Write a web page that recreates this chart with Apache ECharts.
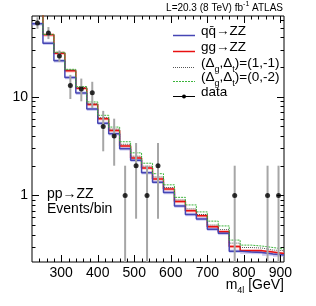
<!DOCTYPE html>
<html><head><meta charset="utf-8">
<script src="https://cdn.jsdelivr.net/npm/echarts@6/dist/echarts.min.js"></script>
<style>html,body{margin:0;padding:0;background:#fff}#c{width:316px;height:306px}</style>
</head><body><div id="c"></div>
<script>
// ---- data ----
const binEdges = [220,250,280,310,340,370,400,430,460,490,520,550,580,610,640,670,700,730,760,790,820,850,880];
const binHigh = 910;
const qqZZ    = [55,35,23.2,15.7,10.9,7.5,5.38,4.22,2.97,2.27,1.7,1.36,1.07,0.78,0.64,0.577,0.453,0.412,0.272,0.266,0.264,0.254,0.248];
const ggZZ    = [70,42.5,27.7,18.4,12.2,8.35,6.0,4.56,3.16,2.4,1.9,1.47,1.16,0.867,0.70,0.62,0.482,0.428,0.303,0.275,0.275,0.266,0.257];
const dg1dtm1 = [70,42.8,28,18.7,12.4,8.5,6.15,4.7,3.3,2.5,1.98,1.54,1.2,0.9,0.73,0.64,0.5,0.45,0.328,0.296,0.292,0.279,0.275];
const dg0dtm2 = [70,43,28.3,19,12.7,8.87,6.49,4.93,3.5,2.7,2.12,1.66,1.28,0.955,0.80,0.68,0.548,0.49,0.352,0.313,0.306,0.296,0.285];
const dataMass = [235,265,295,325,355,385,415,445,475,505,535,565,775,865,895];
const dataVal  = [56,44.5,26,13,12,11,5,4,1,2,1,2,1,1,1];
const dataLo   = [49,38.5,22.5,9.5,9.0,7.7,2.8,2.0,0.17,0.58,0.17,0.58,0.17,0.17,0.17];
const dataHi   = [64,51,29.5,16.7,15.3,14.2,7.2,6.0,2.0,3.4,2.0,3.4,2.0,2.0,2.0];
const xMajorTicks = [300,400,500,600,700,800,900];
const xMinorTicks = [240,260,280,320,340,360,380,420,440,460,480,520,540,560,580,620,640,660,680,720,740,760,780,820,840,860,880];
const yMajorTicks = [1,10];
const yMinorTicks = [0.3,0.4,0.5,0.6,0.7,0.8,0.9,2,3,4,5,6,7,8,9,20,30,40,50,60];
const xLabels = ['300','400','500','600','700','800','900'];
const bandRel = 0.04;

const X_MIN = 220, X_MAX = 910, Y_MIN = 0.211, Y_MAX = 66;
const FONT = 'Liberation Sans, Arial, Helvetica, sans-serif';

function stepData(vals){
  const d = binEdges.map((e,i)=>[e, vals[i]]);
  d.push([binHigh, vals[vals.length-1]]);
  return d;
}
function bandData(vals){
  return binEdges.map((e,i)=>[e, i < binEdges.length-1 ? binEdges[i+1] : binHigh, vals[i]*(1-bandRel), vals[i]*(1+bandRel)]);
}
function bandSeries(vals, color){
  return {
    type:'custom', data: bandData(vals), encode:{x:[0,1], y:[2,3]}, silent:true, z:1,
    renderItem(params, api){
      const p1 = api.coord([api.value(0), api.value(3)]);
      const p2 = api.coord([api.value(1), api.value(2)]);
      const cs = params.coordSys;
      const r = echarts.graphic.clipRectByRect(
        {x:p1[0], y:p1[1], width:p2[0]-p1[0], height:p2[1]-p1[1]},
        {x:cs.x, y:cs.y, width:cs.width, height:cs.height});
      if (!r) return;
      return {type:'rect', shape:r, style:{fill:color}};
    }
  };
}
function lineSeries(vals, color, width, dash, z){
  return {type:'line', step:'end', data: stepData(vals), symbol:'none', clip:true, z:z,
    lineStyle:{color:color, width:width, type: dash || 'solid'}, silent:true};
}
function tickSeriesX(){
  const d = xMajorTicks.map(v=>[v, Y_MIN, 7]).concat(xMinorTicks.map(v=>[v, Y_MIN, 3.5]));
  return {type:'custom', data:d, encode:{x:0, y:1}, silent:true, z:10,
    renderItem(params, api){
      const x = api.value(0), len = api.value(2);
      const pb = api.coord([x, Y_MIN]), pt = api.coord([x, Y_MAX]);
      const xx = Math.round(pb[0]) + 0.5;
      return {type:'group', children:[
        {type:'line', shape:{x1:xx, y1:pb[1], x2:xx, y2:pb[1]-len}, style:{stroke:'#000', lineWidth:1}},
        {type:'line', shape:{x1:xx, y1:pt[1], x2:xx, y2:pt[1]+len}, style:{stroke:'#000', lineWidth:1}}
      ]};
    }};
}
function tickSeriesY(){
  const d = yMajorTicks.map(v=>[X_MIN, v, 7]).concat(yMinorTicks.map(v=>[X_MIN, v, 3.5]));
  return {type:'custom', data:d, encode:{x:0, y:1}, silent:true, z:10,
    renderItem(params, api){
      const y = api.value(1), len = api.value(2);
      const pl = api.coord([X_MIN, y]), pr = api.coord([X_MAX, y]);
      const yy = Math.round(pl[1]) + 0.5;
      return {type:'group', children:[
        {type:'line', shape:{x1:pl[0], y1:yy, x2:pl[0]+len, y2:yy}, style:{stroke:'#000', lineWidth:1}},
        {type:'line', shape:{x1:pr[0], y1:yy, x2:pr[0]-len, y2:yy}, style:{stroke:'#000', lineWidth:1}}
      ]};
    }};
}

const chart = echarts.init(document.getElementById('c'), null, {renderer:'canvas'});
const BLUE = '#4646b4', RED = '#e81010', GREY = '#555555', GREEN = '#3cb43c';
const legRows = [35, 51, 67, 81, 96];
const legX0 = 173, legX1 = 195, legTX = 201;
const richSub = {
  n:{fontSize:13.5, fontFamily:FONT, lineHeight:22, verticalAlign:'middle', color:'#000'},
  s:{fontSize:9, fontFamily:FONT, lineHeight:9, verticalAlign:'bottom', color:'#000'}
};
function legText(y, txt){
  return {type:'text', left:legTX, top:y-11, style:{text:txt, rich:richSub, fill:'#000', font:'13.5px '+FONT}, silent:true};
}
const graphics = [
  // title
  {type:'text', right:316-283, top:1, style:{text:'{n|L=20.3 (8 TeV) fb}{p|-1}{n| ATLAS}', rich:{
     n:{fontSize:10, fontFamily:FONT, lineHeight:14, verticalAlign:'middle', color:'#000'},
     p:{fontSize:7, fontFamily:FONT, lineHeight:7, verticalAlign:'top', color:'#000'}}}, silent:true},
  // legend lines
  {type:'line', shape:{x1:legX0, y1:legRows[0]+0.5, x2:legX1, y2:legRows[0]+0.5}, style:{stroke:BLUE, lineWidth:1.5}},
  {type:'line', shape:{x1:legX0, y1:legRows[1]+0.5, x2:legX1, y2:legRows[1]+0.5}, style:{stroke:RED, lineWidth:1.5}},
  {type:'line', shape:{x1:legX0, y1:legRows[2]+0.5, x2:legX1, y2:legRows[2]+0.5}, style:{stroke:GREY, lineWidth:1, lineDash:[1,1]}},
  {type:'line', shape:{x1:legX0, y1:legRows[3]+0.5, x2:legX1, y2:legRows[3]+0.5}, style:{stroke:GREEN, lineWidth:1, lineDash:[2,1]}},
  {type:'line', shape:{x1:legX0, y1:legRows[4]+0.5, x2:legX1, y2:legRows[4]+0.5}, style:{stroke:'#000', lineWidth:1}},
  {type:'circle', shape:{cx:184, cy:legRows[4]+0.5, r:2}, style:{fill:'#000'}},
  legText(legRows[0], '{n|qq\u0304\u2192ZZ}'),
  legText(legRows[1], '{n|gg\u2192ZZ}'),
  legText(legRows[2], '{n|(\u0394}{s|g}{n|,\u0394}{s|t}{n|)=(1,-1)}'),
  legText(legRows[3], '{n|(\u0394}{s|g}{n|,\u0394}{s|t}{n|)=(0,-2)}'),
  legText(legRows[4], '{n|data}'),
  // in-plot labels
  {type:'text', left:47, top:187, style:{text:'pp\u2192ZZ', fill:'#000', font:'14px '+FONT}, silent:true},
  {type:'text', left:47, top:202, style:{text:'Events/bin', fill:'#000', font:'14px '+FONT}, silent:true},
  // x axis title
  {type:'text', right:316-284, top:278, style:{text:'{n|m}{s|4l}{n| [GeV]}', rich:{
     n:{fontSize:14, fontFamily:FONT, lineHeight:20, verticalAlign:'middle', color:'#000'},
     s:{fontSize:9, fontFamily:FONT, lineHeight:9, verticalAlign:'bottom', color:'#000'}}}, silent:true}
];

function isPow10(v){ const l = Math.log10(v); return Math.abs(l - Math.round(l)) < 1e-6; }

chart.setOption({
  animation:false,
  grid:{left:32, right:32, top:16, bottom:44, show:true, borderColor:'#000', borderWidth:1, backgroundColor:'transparent'},
  xAxis:{type:'value', min:X_MIN, max:X_MAX, interval:20,
    axisLine:{show:false}, axisTick:{show:false}, splitLine:{show:false},
    axisLabel:{margin:4, color:'#000', fontSize:14, fontFamily:FONT,
      formatter:v => { const i = xMajorTicks.indexOf(Math.round(v)); return i >= 0 ? xLabels[i] : ''; }}},
  yAxis:{type:'log', logBase:10, min:Y_MIN, max:Y_MAX,
    axisLine:{show:false}, axisTick:{show:false}, splitLine:{show:false}, minorTick:{show:false},
    axisLabel:{margin:4, color:'#000', fontSize:14, fontFamily:FONT, showMinLabel:false, showMaxLabel:false,
      formatter:v => isPow10(v) ? String(Math.round(v)) : ''}},
  graphic: graphics,
  series:[
    bandSeries(ggZZ, 'rgba(255,140,140,0.55)'),
    bandSeries(qqZZ, 'rgba(150,150,230,0.5)'),
    lineSeries(ggZZ, RED, 1.5, 'solid', 3),
    lineSeries(qqZZ, BLUE, 1.5, 'solid', 3),
    lineSeries(dg1dtm1, GREY, 1, [1,1], 4),
    lineSeries(dg0dtm2, GREEN, 1, [2,1], 4),
    {type:'custom', z:6, silent:true, data: dataMass.map((m,i)=>[m, dataLo[i], dataHi[i]]), encode:{x:0, y:[1,2]},
      renderItem(params, api){
        const lo = api.coord([api.value(0), api.value(1)]);
        const hi = api.coord([api.value(0), api.value(2)]);
        const cs = params.coordSys;
        const y1 = Math.max(hi[1], cs.y), y2 = Math.min(lo[1], cs.y + cs.height);
        return {type:'line', shape:{x1:lo[0], y1:y1, x2:lo[0], y2:y2}, style:{stroke:'#a6a6a6', lineWidth:2}};
      }},
    {type:'scatter', z:7, silent:true, data: dataMass.map((m,i)=>[m, dataVal[i]]), symbol:'circle', symbolSize:5,
      itemStyle:{color:'#000'}},
    tickSeriesX(),
    tickSeriesY()
  ]
});
</script></body></html>
